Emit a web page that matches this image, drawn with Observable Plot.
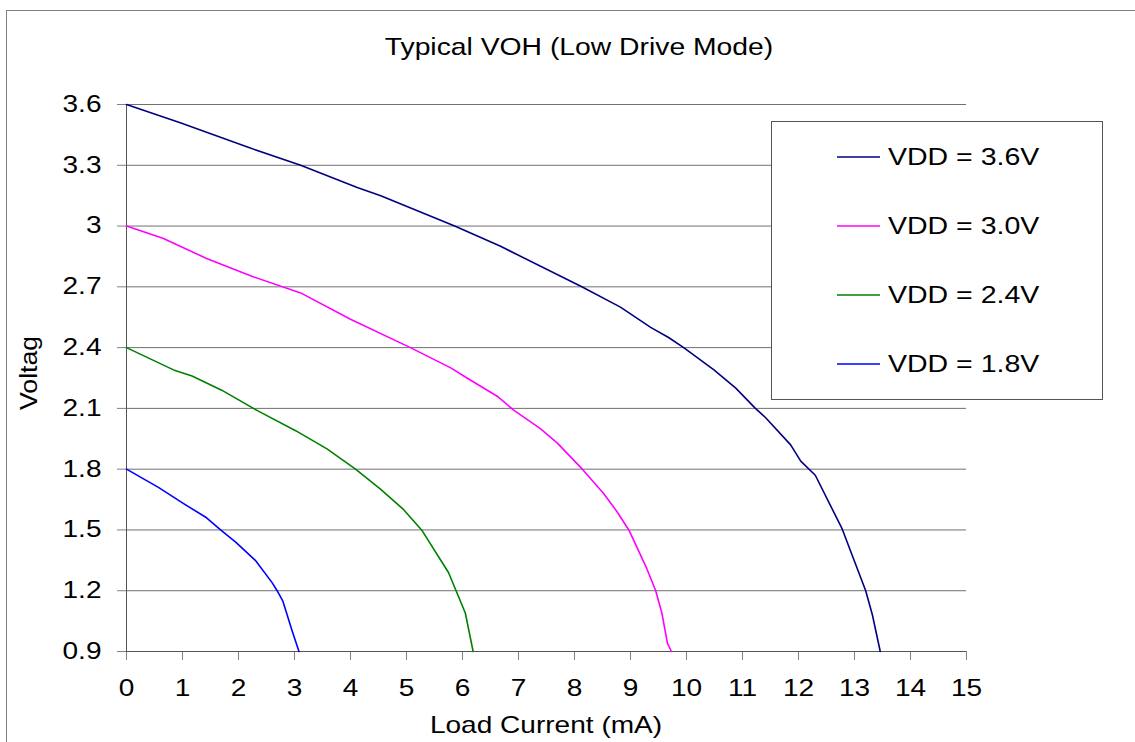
<!DOCTYPE html>
<html>
<head>
<meta charset="utf-8">
<script src="https://cdn.jsdelivr.net/npm/d3@7"></script>
<script src="https://cdn.jsdelivr.net/npm/@observablehq/plot@0.6"></script>
<style>
  html, body { margin: 0; padding: 0; background: #fff; }
  svg { display: block; }
</style>
</head>
<body>
<div id="chart"></div>
<script>
// ---- data ----
const title = "Typical VOH (Low Drive Mode)";
const xLabel = "Load Current (mA)";
const yLabel = "Voltage";
const seriesNames = ["VDD = 3.6V", "VDD = 3.0V", "VDD = 2.4V", "VDD = 1.8V"];
const seriesColors = ["#000080", "#FF00FF", "#008000", "#0000FF"];

const current36 = [0, 0.96, 2.16, 3.11, 4.12, 4.54, 5.86, 6.68, 8.13, 8.82, 9.36, 9.68, 9.95, 10.49, 10.88, 11.23, 11.41, 11.86, 12.04, 12.30, 12.78, 13.20, 13.32, 13.46];
const voltage36 = [3.6, 3.51, 3.39, 3.30, 3.19, 3.15, 3.00, 2.90, 2.70, 2.60, 2.50, 2.45, 2.40, 2.29, 2.20, 2.10, 2.055, 1.92, 1.84, 1.77, 1.505, 1.20, 1.08, 0.90];

const current30 = [0, 0.65, 1.43, 2.26, 3.11, 4.0, 5.07, 5.79, 6.08, 6.62, 6.92, 7.39, 7.69, 8.14, 8.52, 8.76, 8.97, 9.29, 9.45, 9.56, 9.66, 9.73];
const voltage30 = [3.0, 2.94, 2.84, 2.75, 2.67, 2.54, 2.40, 2.30, 2.25, 2.16, 2.09, 2.00, 1.93, 1.80, 1.68, 1.59, 1.50, 1.31, 1.20, 1.09, 0.94, 0.90];

const current24 = [0, 0.84, 1.17, 1.70, 2.33, 3.02, 3.58, 4.09, 4.54, 4.95, 5.27, 5.75, 6.05, 6.19];
const voltage24 = [2.4, 2.29, 2.26, 2.19, 2.09, 1.99, 1.90, 1.80, 1.70, 1.60, 1.50, 1.29, 1.09, 0.90];

const current18 = [0, 0.57, 1.02, 1.43, 1.68, 1.95, 2.30, 2.60, 2.69, 2.79, 2.96, 3.08];
const voltage18 = [1.8, 1.71, 1.63, 1.56, 1.50, 1.44, 1.35, 1.24, 1.20, 1.15, 1.00, 0.90];

const xTicks = [0, 1, 2, 3, 4, 5, 6, 7, 8, 9, 10, 11, 12, 13, 14, 15];
const yTicks = [0.9, 1.2, 1.5, 1.8, 2.1, 2.4, 2.7, 3, 3.3, 3.6];

// ---- build table ----
const currents = [current36, current30, current24, current18];
const voltages = [voltage36, voltage30, voltage24, voltage18];
const rows = [];
seriesNames.forEach((name, k) => {
  currents[k].forEach((c, i) => rows.push({series: name, current: c, voltage: voltages[k][i]}));
});

const FONT = "'Liberation Sans', Arial, sans-serif";
const STRETCH = 1.22;

const svg = Plot.plot({
  width: 1135,
  height: 742,
  marginLeft: 126,
  marginRight: 169,
  marginTop: 104,
  marginBottom: 91,
  style: {fontFamily: FONT, fontSize: "23px", color: "#000", background: "#fff"},
  x: {domain: [0, 15]},
  y: {domain: [0.9, 3.6]},
  color: {domain: seriesNames, range: seriesColors},
  marks: [
    Plot.gridY(yTicks, {stroke: "#707070", strokeOpacity: 1, strokeWidth: 1}),
    Plot.axisY(yTicks, {tickSize: 9, tickPadding: 16, stroke: "#808080", label: null,
      tickFormat: d => String(d), fontSize: 23, fill: "#000"}),
    Plot.axisX(xTicks, {tickSize: 9, tickPadding: 19, stroke: "#808080", label: null,
      tickFormat: d => String(d), fontSize: 23, fill: "#000"}),
    Plot.ruleX([0], {stroke: "#555"}),
    Plot.ruleY([0.9], {stroke: "#555"}),
    Plot.line(rows, {x: "current", y: "voltage", z: "series", stroke: "series", strokeWidth: 1.6})
  ]
});

// widen glyphs horizontally to match the reference's wide rendering
d3.select(svg).selectAll("text").each(function () {
  const t = this.getAttribute("transform") || "";
  let pre = "";
  if (this.hasAttribute("x")) {
    const xv = parseFloat(this.getAttribute("x"));
    if (!isNaN(xv) && xv !== 0) { pre = ` translate(${xv},0)`; this.setAttribute("x", 0); }
  }
  this.setAttribute("transform", `${t}${pre} scale(${STRETCH},1)`);
});

const s = d3.select(svg);

// outer border
s.insert("rect", ":first-child")
  .attr("x", 6.5).attr("y", 10.5).attr("width", 1200).attr("height", 800)
  .attr("fill", "none").attr("stroke", "#808080");

// title
s.append("text")
  .attr("transform", `translate(579,55) scale(1.18,1)`)
  .attr("text-anchor", "middle")
  .attr("font-family", FONT).attr("font-size", 24).attr("fill", "#000")
  .text(title);

// x label
s.append("text")
  .attr("transform", `translate(546,733) scale(${STRETCH},1)`)
  .attr("text-anchor", "middle")
  .attr("font-family", FONT).attr("font-size", 23).attr("fill", "#000")
  .text(xLabel);

// y label (clipped like the reference)
const defs = s.append("defs");
defs.append("clipPath").attr("id", "ylabclip")
  .append("rect").attr("x", 0).attr("y", 338).attr("width", 60).attr("height", 404);
s.append("g").attr("clip-path", "url(#ylabclip)")
  .append("text")
  .attr("transform", `translate(37,410) rotate(-90) scale(1.16,1)`)
  .attr("text-anchor", "start")
  .attr("font-family", FONT).attr("font-size", 23).attr("fill", "#000")
  .text(yLabel);

// legend
const lg = s.append("g");
lg.append("rect").attr("x", 771.5).attr("y", 121.5).attr("width", 331).attr("height", 278)
  .attr("fill", "#fff").attr("stroke", "#555");
const rowY = [157, 226, 295, 364];
seriesNames.forEach((name, i) => {
  lg.append("line").attr("x1", 837).attr("x2", 880).attr("y1", rowY[i]).attr("y2", rowY[i])
    .attr("stroke", seriesColors[i]).attr("stroke-width", 1.5);
  lg.append("text")
    .attr("transform", `translate(888,${rowY[i] + 8}) scale(1.24,1)`)
    .attr("text-anchor", "start")
    .attr("font-family", FONT).attr("font-size", 23).attr("fill", "#000")
    .text(name);
});

document.getElementById("chart").appendChild(svg);
</script>
</body>
</html>
